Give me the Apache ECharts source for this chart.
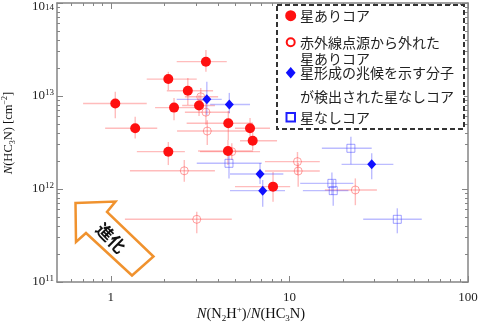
<!DOCTYPE html>
<html><head><meta charset="utf-8">
<script src="https://cdn.jsdelivr.net/npm/echarts@6/dist/echarts.min.js"></script>
<style>html,body{margin:0;padding:0;background:#fff}#c{width:480px;height:324px}</style>
</head><body><div id="c"></div>
<script>
// ---- data ----
const seriesNames = ['星ありコア', '赤外線点源から外れた星ありコア', '星形成の兆候を示す分子が検出された星なしコア', '星なしコア'];
const legendLines = [['星ありコア'], ['赤外線点源から外れた', '星ありコア'], ['星形成の兆候を示す分子', 'が検出された星なしコア'], ['星なしコア']];
const xTitle = '{i|N}{n|(N}{sb|2}{n|H}{sp|+}{n|)/}{i|N}{n|(HC}{sb|3}{n|N)}';
const yTitle = '{i|N}{n|(HC}{sb|3}{n|N) [cm}{sp|−2}{n|]}';
const arrowLabel = '進化';

const xTicks = [1, 10, 100];
const yTicks = [1e11, 1e12, 1e13, 1e14];
const xMinorTicks = [0.6, 0.7, 0.8, 0.9, 2, 3, 4, 5, 6, 7, 8, 9, 20, 30, 40, 50, 60, 70, 80, 90];
const yMinorTicks = [2e11, 3e11, 4e11, 5e11, 6e11, 7e11, 8e11, 9e11, 2e12, 3e12, 4e12, 5e12, 6e12, 7e12, 8e12, 9e12, 2e13, 3e13, 4e13, 5e13, 6e13, 7e13, 8e13, 9e13];

// filled red: cores with stars
const starX   = [1.06, 1.37, 2.10, 3.41, 2.70, 2.26, 3.12, 4.55, 6.02, 6.23, 2.10, 4.53, 8.10];
const starY   = [8.3e12, 4.5e12, 1.52e13, 2.34e13, 1.14e13, 7.5e12, 7.9e12, 5.1e12, 4.5e12, 3.3e12, 2.52e12, 2.56e12, 1.06e12];
const starXLo = [0.70, 0.93, 1.59, 2.34, 2.06, 1.77, 2.51, 2.66, 4.96, 5.29, 1.40, 3.08, 4.96];
const starXHi = [1.59, 1.82, 3.03, 4.46, 3.74, 3.16, 3.83, 6.26, 7.79, 8.53, 2.60, 6.26, 10.1];
const starYLo = [5.75e12, 3.5e12, 1.16e13, 1.82e13, 8.0e12, 5.5e12, 6.1e12, 3.37e12, 3.5e12, 2.62e12, 1.81e12, 1.81e12, 7.3e11];
const starYHi = [1.11e13, 6.0e12, 1.82e13, 3.13e13, 1.56e13, 9.5e12, 1.03e13, 6.9e12, 5.8e12, 4.1e12, 3.2e12, 3.37e12, 1.52e12];

// open red: cores with stars off IR point sources
const offX   = [3.19, 3.41, 3.47, 4.76, 2.58, 3.03, 11.1, 11.2, 23.4];
const offY   = [9.8e12, 6.7e12, 4.2e12, 2.52e12, 1.57e12, 4.72e11, 1.97e12, 1.56e12, 9.76e11];
const offXLo = [2.60, 2.60, 2.35, 3.16, 1.28, 1.20, 7.3, 7.3, 15.8];
const offXHi = [3.99, 4.65, 5.79, 6.85, 3.83, 4.76, 14.8, 14.8, 30.9];
const offYLo = [7.4e12, 4.9e12, 2.97e12, 2.05e12, 1.2e12, 3.34e11, 1.42e12, 1.06e12, 6.7e11];
const offYHi = [1.22e13, 8.4e12, 5.5e12, 3.1e12, 2.05e12, 5.7e11, 2.5e12, 1.9e12, 1.30e12];

// blue diamonds
const sigX   = [3.45, 4.61, 6.85, 7.09, 28.9];
const sigY   = [9.2e12, 8.1e12, 1.45e12, 9.6e11, 1.84e12];
const sigXLo = [2.34, 3.60, 4.65, 4.65, 19.6];
const sigXHi = [4.18, 6.02, 9.25, 9.45, 38.2];
const sigYLo = [6.2e12, 6.5e12, 1.13e12, 6.45e11, 1.27e12];
const sigYHi = [1.42e13, 1.08e13, 1.9e12, 1.25e12, 2.42e12];

// blue squares: starless cores
const slX   = [4.59, 22.1, 17.3, 17.6, 40.2];
const slY   = [1.89e12, 2.74e12, 1.15e12, 9.6e11, 4.72e11];
const slXLo = [3.03, 15.2, 11.5, 11.9, 25.9];
const slXHi = [7.0, 28.9, 22.8, 21.4, 55.1];
const slYLo = [1.3e12, 1.84e12, 8.6e11, 6.6e11, 3.34e11];
const slYHi = [2.85e12, 3.65e12, 1.5e12, 1.25e12, 6.2e11];

// ---- build ----
function rows(x, y, xl, xh, yl, yh) { return x.map((v, i) => [v, y[i], xl[i], xh[i], yl[i], yh[i]]); }
const starRows = rows(starX, starY, starXLo, starXHi, starYLo, starYHi);
const offRows = rows(offX, offY, offXLo, offXHi, offYLo, offYHi);
const sigRows = rows(sigX, sigY, sigXLo, sigXHi, sigYLo, sigYHi);
const slRows = rows(slX, slY, slXLo, slXHi, slYLo, slYHi);

const RED_BAR = 'rgba(255,70,70,0.36)';
const BLUE_BAR = 'rgba(70,70,255,0.36)';

function errSeries(data, color) {
  return {
    type: 'custom', xAxisIndex: 0, yAxisIndex: 0, z: 1, silent: true,
    encode: { x: [0, 2, 3], y: [1, 4, 5] },
    data: data,
    renderItem: function (params, api) {
      const xl = api.coord([api.value(2), api.value(1)]);
      const xh = api.coord([api.value(3), api.value(1)]);
      const yl = api.coord([api.value(0), api.value(4)]);
      const yh = api.coord([api.value(0), api.value(5)]);
      return { type: 'group', children: [
        { type: 'line', shape: { x1: xl[0], y1: xl[1], x2: xh[0], y2: xh[1] }, style: { stroke: color, lineWidth: 1.4 } },
        { type: 'line', shape: { x1: yl[0], y1: yl[1], x2: yh[0], y2: yh[1] }, style: { stroke: color, lineWidth: 1.4 } }
      ] };
    }
  };
}

const SERIF = 'Liberation Serif';
const AX = '#858585';
const richTick = {
  b: { fontFamily: SERIF, fontSize: 13, color: '#222', lineHeight: 16 },
  s: { fontFamily: SERIF, fontSize: 9, color: '#222', lineHeight: 8, verticalAlign: 'top' },
  bt: { fontFamily: SERIF, fontSize: 13, color: '#222', lineHeight: 16, padding: [8, 0, 0, 0] },
  st: { fontFamily: SERIF, fontSize: 9, color: '#222', lineHeight: 8, verticalAlign: 'top', padding: [8, 0, 0, 0] }
};
function richName(fs) {
  const sf = Math.round(fs * 0.65);
  return {
    i: { fontFamily: SERIF, fontSize: fs, fontStyle: 'italic', fill: '#111', lineHeight: fs + 4 },
    n: { fontFamily: SERIF, fontSize: fs, fill: '#111', lineHeight: fs + 4 },
    sb: { fontFamily: SERIF, fontSize: sf, fill: '#111', lineHeight: sf, verticalAlign: 'bottom' },
    sp: { fontFamily: SERIF, fontSize: sf, fill: '#111', lineHeight: sf, verticalAlign: 'top' }
  };
}

function xAx(pos, major, labels) {
  return {
    type: 'log', min: 0.5, max: 100, position: pos, gridIndex: 0,
    axisLine: { show: major, onZero: false, lineStyle: { color: AX, width: 1.5 } },
    axisTick: { show: true, inside: true, length: major ? 6 : 3, customValues: major ? xTicks : xMinorTicks, lineStyle: { color: AX, width: 1 } },
    axisLabel: labels ? { show: true, customValues: xTicks, margin: 9, fontFamily: SERIF, fontSize: 13, color: '#222',
      formatter: v => String(Math.round(v)) } : { show: false },
    splitLine: { show: false }, minorTick: { show: false }
  };
}
function yAx(pos, major, labels) {
  return {
    type: 'log', min: 1e11, max: 1e14, position: pos, gridIndex: 0,
    axisLine: { show: major, onZero: false, lineStyle: { color: AX, width: 1.5 } },
    axisTick: { show: true, inside: true, length: major ? 6 : 3, customValues: major ? yTicks : yMinorTicks, lineStyle: { color: AX, width: 1 } },
    axisLabel: labels ? { show: true, customValues: yTicks, margin: 3,
      formatter: v => {
        const e = Math.round(Math.log10(v));
        return e >= 14 ? '{bt|10}{st|' + e + '}' : '{b|10}{s|' + e + '}';
      }, rich: richTick } : { show: false },
    splitLine: { show: false }, minorTick: { show: false }
  };
}

const legendY = [[15.7], [42.3, 58.7], [72.7, 96.7], [117.3]];
const graphics = [];
graphics.push({ type: 'rect', shape: { x: 277, y: 5, width: 187, height: 124 }, style: { fill: '#fff', stroke: '#333', lineWidth: 2, lineDash: [5, 3] }, z: 100 });
graphics.push({ type: 'circle', shape: { cx: 290.7, cy: 15.7, r: 5.5 }, style: { fill: '#ff1010' }, z: 101 });
graphics.push({ type: 'circle', shape: { cx: 290.7, cy: 42.3, r: 4 }, style: { fill: '#fff', stroke: '#ff1010', lineWidth: 2 }, z: 101 });
graphics.push({ type: 'polygon', shape: { points: [[290.7, 67], [295.6, 72.7], [290.7, 78.4], [285.8, 72.7]] }, style: { fill: '#1010ff' }, z: 101 });
graphics.push({ type: 'rect', shape: { x: 286.5, y: 113, width: 8.5, height: 8.5 }, style: { fill: '#fff', stroke: '#2020ff', lineWidth: 2 }, z: 101 });
legendLines.forEach((lines, k) => lines.forEach((t, j) => {
  graphics.push({ type: 'text', x: 300, y: legendY[k][j], z: 101,
    style: { text: t, fontFamily: 'Noto Sans CJK JP', fontSize: 14, fill: '#222', verticalAlign: 'middle', align: 'left' } });
}));
// axis titles
graphics.push({ type: 'text', x: 251, y: 314, z: 60,
  style: { text: xTitle, rich: richName(14.5), align: 'center', verticalAlign: 'middle' } });
graphics.push({ type: 'text', x: 9, y: 133, rotation: Math.PI / 2, z: 60,
  style: { text: yTitle, rich: richName(12.5), align: 'center', verticalAlign: 'middle' } });
// evolution arrow
graphics.push({ type: 'polygon', z: 50,
  shape: { points: [[75.5, 203], [115.5, 201.5], [107, 212], [153.5, 256.5], [132, 275.5], [86, 233], [76, 242]] },
  style: { fill: '#fff', stroke: '#F0922E', lineWidth: 2.5, lineJoin: 'miter' } });
graphics.push({ type: 'text', x: 111, y: 238, rotation: -Math.PI / 4, z: 51,
  style: { text: arrowLabel, fontFamily: 'Noto Sans CJK JP', fontWeight: 'bold', fontSize: 17, fill: '#111', align: 'center', verticalAlign: 'middle' } });

const chart = echarts.init(document.getElementById('c'), null, { renderer: 'canvas' });
chart.setOption({
  animation: false,
  backgroundColor: '#fff',
  grid: { left: 57, right: 12, top: 3, bottom: 42, containLabel: false, outerBoundsMode: 'none' },
  xAxis: [xAx('bottom', true, true), xAx('bottom', false, false), xAx('top', true, false), xAx('top', false, false)],
  yAxis: [yAx('left', true, true), yAx('left', false, false), yAx('right', true, false), yAx('right', false, false)],
  series: [
    errSeries(starRows, RED_BAR), errSeries(offRows, RED_BAR), errSeries(sigRows, BLUE_BAR), errSeries(slRows, BLUE_BAR),
    { name: seriesNames[1], type: 'scatter', z: 3, symbol: 'circle', symbolSize: 8, data: offRows.map(r => [r[0], r[1]]),
      itemStyle: { color: 'rgba(0,0,0,0)', borderColor: 'rgba(255,60,60,0.6)', borderWidth: 1 } },
    { name: seriesNames[3], type: 'scatter', z: 3, symbol: 'rect', symbolSize: 8, data: slRows.map(r => [r[0], r[1]]),
      itemStyle: { color: 'rgba(0,0,0,0)', borderColor: 'rgba(60,60,255,0.6)', borderWidth: 1 } },
    { name: seriesNames[0], type: 'scatter', z: 4, symbol: 'circle', symbolSize: 10, data: starRows.map(r => [r[0], r[1]]),
      itemStyle: { color: '#ff1010', opacity: 1 } },
    { name: seriesNames[2], type: 'scatter', z: 5, symbol: 'diamond', symbolSize: [9, 10], data: sigRows.map(r => [r[0], r[1]]),
      itemStyle: { color: '#1010ff', opacity: 1 } }
  ],
  graphic: graphics
});
</script></body></html>
